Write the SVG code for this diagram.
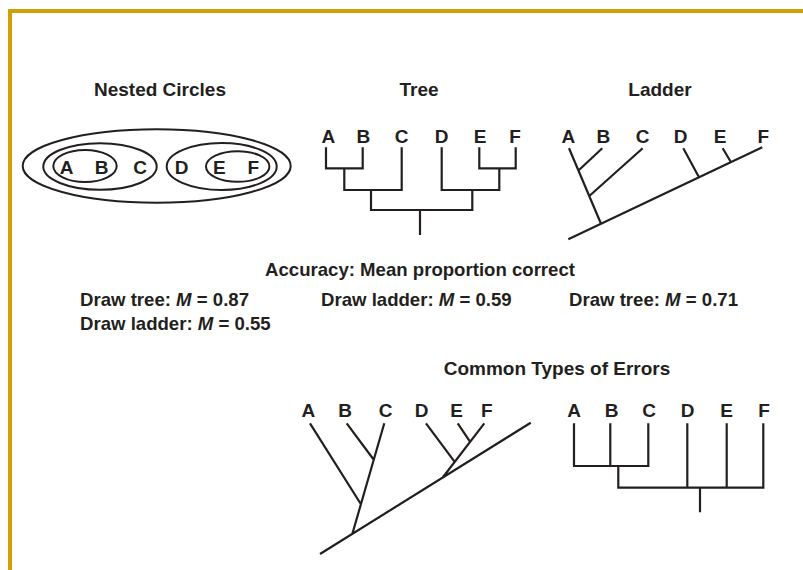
<svg xmlns="http://www.w3.org/2000/svg" width="803" height="570" viewBox="0 0 803 570">
  <style>
    .title { font-family: "Liberation Sans", Arial, sans-serif; font-weight: bold; font-size: 19px; fill: #231f20; text-anchor: middle; }
    .lbl { font-family: "Liberation Sans", Arial, sans-serif; font-weight: bold; font-size: 19px; fill: #231f20; text-anchor: middle; }
    .stat { font-family: "Liberation Sans", Arial, sans-serif; font-weight: bold; font-size: 18.6px; fill: #231f20; }
    .ln { fill: none; stroke: #231f20; stroke-width: 2.2; }
    .ring { fill: none; stroke: #231f20; stroke-width: 2; }
  </style>
  <rect width="803" height="570" fill="#ffffff"/>
  <!-- frame -->
  <path d="M10 570 V11 H803" fill="none" stroke="#D29F0B" stroke-width="4"/>

  <!-- section titles -->
  <g id="titles">
    <text class="title" x="160" y="96">Nested Circles</text>
    <text class="title" x="419" y="96">Tree</text>
    <text class="title" x="660" y="96">Ladder</text>
    <text class="title" x="557" y="375">Common Types of Errors</text>
  </g>

  <!-- nested circles -->
  <g id="nested-circles">
    <ellipse class="ring" cx="156.7" cy="166" rx="134" ry="36.7"/>
    <ellipse class="ring" cx="100" cy="166.5" rx="56.7" ry="23.3"/>
    <ellipse class="ring" cx="85" cy="166" rx="31.7" ry="16"/>
    <ellipse class="ring" cx="221.7" cy="166.5" rx="55" ry="23.5"/>
    <ellipse class="ring" cx="237.7" cy="166.5" rx="31.7" ry="15.3"/>
    <text class="lbl" x="66.7" y="173.5">A</text>
    <text class="lbl" x="101.7" y="173.5">B</text>
    <text class="lbl" x="140" y="173.5">C</text>
    <text class="lbl" x="181.7" y="173.5">D</text>
    <text class="lbl" x="219.3" y="173.5">E</text>
    <text class="lbl" x="253.3" y="173.5">F</text>
  </g>

  <!-- tree -->
  <g id="tree">
    <text class="lbl" x="328.3" y="143">A</text>
    <text class="lbl" x="363.3" y="143">B</text>
    <text class="lbl" x="401.7" y="143">C</text>
    <text class="lbl" x="441.7" y="143">D</text>
    <text class="lbl" x="480" y="143">E</text>
    <text class="lbl" x="515" y="143">F</text>
    <path class="ln" d="M326 147.3 V168.3 H362.7 V147.3 M344.3 168.3 V190 H401.7 V147.3 M371 190 V210 H472.3 V190 M441.7 147.3 V190 H499.3 V168.3 M479.3 147.3 V168.3 H515.7 V147.3 M420 210 V235"/>
  </g>

  <!-- ladder -->
  <g id="ladder">
    <text class="lbl" x="568.3" y="143">A</text>
    <text class="lbl" x="603.3" y="143">B</text>
    <text class="lbl" x="642.7" y="143">C</text>
    <text class="lbl" x="680.7" y="143">D</text>
    <text class="lbl" x="720" y="143">E</text>
    <text class="lbl" x="763.3" y="143">F</text>
    <path class="ln" d="M568.3 239.3 L762.3 147.3 M569 148.3 L601 223.8 M602.3 148.3 L579 170 M642.7 148.3 L589.3 196 M683.3 148.3 L699 177.3 M722.7 148.3 L731 162.2"/>
  </g>

  <!-- accuracy results -->
  <g id="accuracy">
    <text class="stat" x="420" y="276" text-anchor="middle" font-size="18.2">Accuracy: Mean proportion correct</text>
    <text class="stat" x="80" y="306">Draw tree: <tspan font-style="italic">M</tspan> = 0.87</text>
    <text class="stat" x="80" y="330">Draw ladder: <tspan font-style="italic">M</tspan> = 0.55</text>
    <text class="stat" x="321" y="306">Draw ladder: <tspan font-style="italic">M</tspan> = 0.59</text>
    <text class="stat" x="569" y="306">Draw tree: <tspan font-style="italic">M</tspan> = 0.71</text>
  </g>

  <!-- error: ladder drawn with wrong groupings -->
  <g id="error-ladder">
    <text class="lbl" x="308.3" y="417">A</text>
    <text class="lbl" x="345" y="417">B</text>
    <text class="lbl" x="385.7" y="417">C</text>
    <text class="lbl" x="421.7" y="417">D</text>
    <text class="lbl" x="456.7" y="417">E</text>
    <text class="lbl" x="486.7" y="417">F</text>
    <path class="ln" d="M320 554 L530.7 422.7 M310 423.3 L360.8 504 M346.7 423.3 L373.6 459.5 M384.3 423.3 L352.3 534 M426 423.3 L454.5 461.7 M484.3 423.3 L442.7 477.5 M457.7 423.3 L470 441.7"/>
  </g>

  <!-- error: tree with flattened groupings -->
  <g id="error-tree">
    <text class="lbl" x="574" y="417">A</text>
    <text class="lbl" x="611.7" y="417">B</text>
    <text class="lbl" x="649" y="417">C</text>
    <text class="lbl" x="687.7" y="417">D</text>
    <text class="lbl" x="726.7" y="417">E</text>
    <text class="lbl" x="764" y="417">F</text>
    <path class="ln" d="M574 423.3 V466 H648.3 V423.3 M610.3 423.3 V466 M618.3 466 V487.7 H763.3 V423.3 M687.3 423.3 V487.7 M726.7 423.3 V487.7 M700 487.7 V512.3"/>
  </g>
</svg>
